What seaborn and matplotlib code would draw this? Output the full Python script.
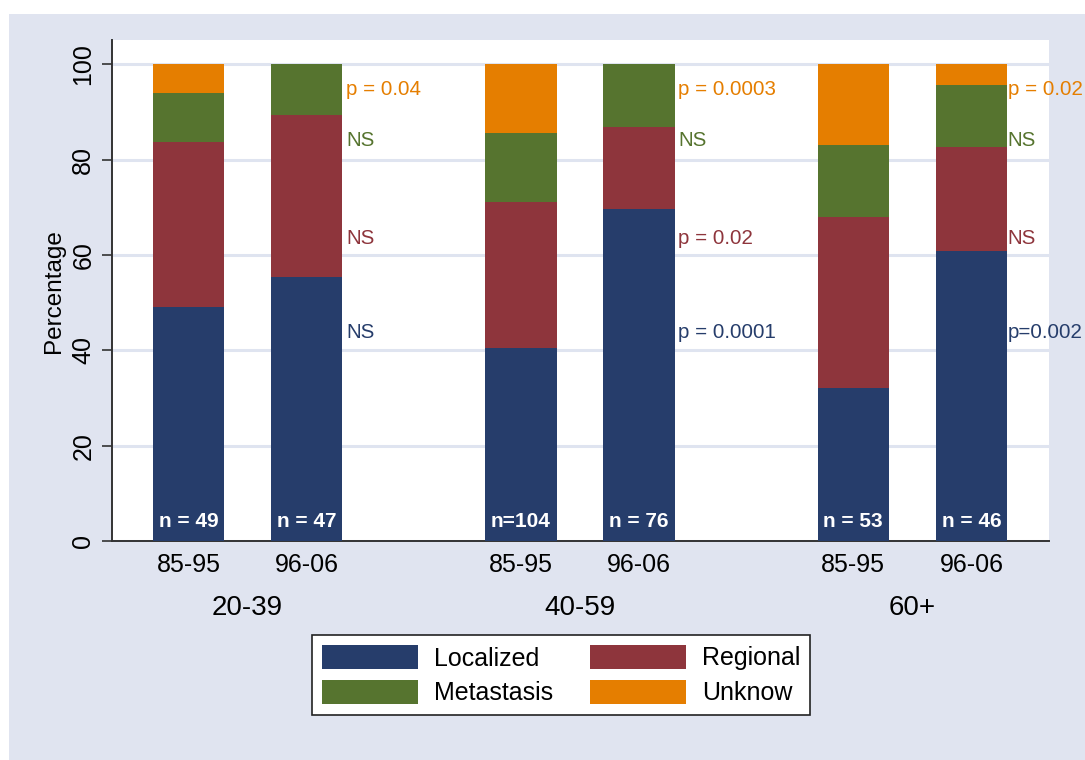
import numpy as np
import pandas as pd
import matplotlib
matplotlib.use("Agg")
import matplotlib.pyplot as plt
from matplotlib.patches import Patch, Rectangle
import seaborn as sns

# ---- data ---------------------------------------------------------------
age_groups = ["20-39", "40-59", "60+"]
periods = ["85-95", "96-06"]

# percentage of cases by stage, one value per (age group, period) bar
localized = [49.0, 55.3, 40.4, 69.7, 32.1, 60.9]
regional = [34.7, 34.1, 30.8, 17.1, 35.8, 21.7]
metastasis = [10.2, 10.6, 14.4, 13.2, 15.1, 13.0]
unknown = [6.1, 0.0, 14.4, 0.0, 17.0, 4.4]

n_labels = ["n = 49", "n = 47", "n=104", "n = 76", "n = 53", "n = 46"]

# significance of the change between periods, per age group
p_unknown = ["p = 0.04", "p = 0.0003", "p = 0.02"]
p_metastasis = ["NS", "NS", "NS"]
p_regional = ["NS", "p = 0.02", "NS"]
p_localized = ["NS", "p = 0.0001", "p=0.002"]

stages = ["Localized", "Regional", "Metastasis", "Unknow"]
colors = {"Localized": "#263D6B", "Regional": "#8E353C",
          "Metastasis": "#56742F", "Unknow": "#E57E00"}

# ---- styling ------------------------------------------------------------
sns.set_theme(style="white")
plt.rcParams["font.family"] = ["Liberation Sans", "DejaVu Sans"]
plt.rcParams["text.color"] = "black"
bg = "#E0E4F0"
grid_c = "#DFE4F0"

W, H = 1085, 760
fig = plt.figure(figsize=(W / 100, H / 100), dpi=100)
fig.patch.set_facecolor("white")
fig.patches.append(Rectangle((9 / W, 0), 1, (H - 14) / H, transform=fig.transFigure,
                             facecolor=bg, edgecolor="none", zorder=-10))

ax = fig.add_axes([112 / W, (H - 541) / H, (1049 - 112) / W, (541 - 40) / H])
ax.set_facecolor("white")

# bar positions: two periods side by side, wider gap between age groups
group_step = 2.81
xpos = [g * group_step + k for g in range(len(age_groups)) for k in range(len(periods))]
bar_w = 0.604

df = pd.DataFrame({"x": xpos, "Localized": localized, "Regional": regional,
                   "Metastasis": metastasis, "Unknow": unknown})
cum = df[stages].cumsum(axis=1)

# stacked bars: draw cumulative totals from the top segment down
for st in stages[::-1]:
    sns.barplot(x=df["x"], y=cum[st], native_scale=True, width=bar_w,
                color=colors[st], saturation=1, errorbar=None,
                linewidth=0, ax=ax, zorder=3)

ax.set_xlim(-0.646, 7.275)
ax.set_ylim(0, 105.1)

# axes, ticks and grid
ax.set_axisbelow(True)
ax.yaxis.grid(True, color=grid_c, linewidth=2.2)
ax.xaxis.grid(False)
for s in ["top", "right"]:
    ax.spines[s].set_visible(False)
for s in ["left", "bottom"]:
    ax.spines[s].set_color("#333333")
    ax.spines[s].set_linewidth(1.4)

ax.set_yticks([0, 20, 40, 60, 80, 100])
ax.set_yticklabels(["0", "20", "40", "60", "80", "100"], rotation=90, va="center")
ax.tick_params(axis="y", length=7, width=1.2, color="#333333", pad=5,
               labelsize=18, left=True, labelcolor="black")
ax.set_xticks(xpos)
ax.set_xticklabels(periods * len(age_groups))
ax.tick_params(axis="x", length=0, pad=9, labelsize=18, labelcolor="black")
ax.set_xlabel("")
ax.set_ylabel("")

fig.text(54 / W, 1 - 291 / H, "Percentage", rotation=90, ha="center", va="center",
         fontsize=17.5, color="black")

# age group labels under the period labels
for g, name in enumerate(age_groups):
    cx = g * group_step + 0.5
    ax.annotate(name, xy=(cx, 0), xycoords=("data", "axes fraction"),
                xytext=(0, -48), textcoords="offset points",
                ha="center", va="center", fontsize=20, color="black")

# sample sizes inside the bars
for x, lab in zip(xpos, n_labels):
    ax.text(x, 4.0, lab, ha="center", va="center", color="white",
            fontsize=15, fontweight="bold", zorder=5)

# p-values next to the second bar of each group
label_y = {"Unknow": 94.8, "Metastasis": 84.0, "Regional": 63.5, "Localized": 43.8}
p_text = {"Unknow": p_unknown, "Metastasis": p_metastasis,
          "Regional": p_regional, "Localized": p_localized}
label_gap = [0.03, 0.03, 0.005]
for g in range(len(age_groups)):
    x_right = g * group_step + 1 + bar_w / 2 + label_gap[g]
    for st in stages:
        ax.text(x_right, label_y[st], p_text[st][g], ha="left", va="center",
                color=colors[st], fontsize=14.8, clip_on=False, zorder=5)

# legend
order = ["Localized", "Metastasis", "Regional", "Unknow"]
handles = [Patch(facecolor=colors[s], edgecolor="none") for s in order]
leg = fig.legend(handles, order, ncol=2, loc="upper left",
                 bbox_to_anchor=(312 / W, 1 - 635 / H), borderaxespad=0,
                 fontsize=18, handlelength=3.84, handleheight=1.1,
                 handletextpad=0.64, columnspacing=1.46, labelspacing=0.36,
                 borderpad=0.4, frameon=True, fancybox=False)
leg.get_frame().set_edgecolor("#222222")
leg.get_frame().set_linewidth(1.2)
leg.get_frame().set_facecolor("white")
leg.get_frame().set_alpha(1)
for t in leg.get_texts():
    t.set_color("black")

fig.savefig("out.png", dpi=100, facecolor=fig.get_facecolor())
